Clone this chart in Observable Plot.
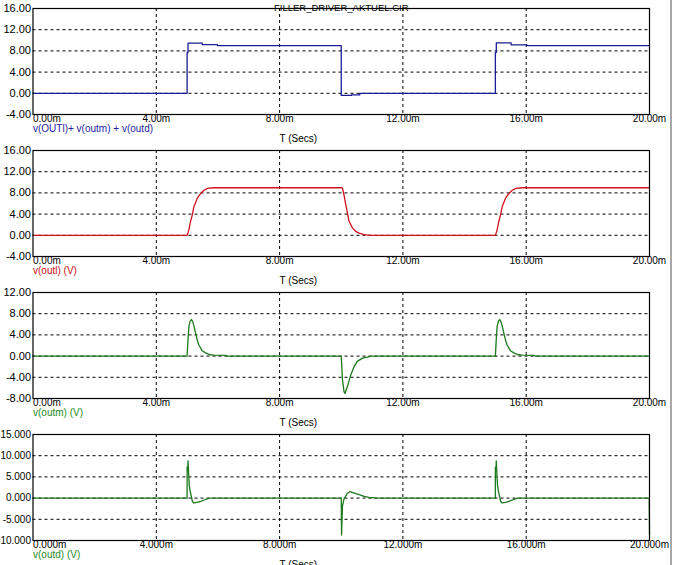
<!DOCTYPE html>
<html>
<head>
<meta charset="utf-8">
<script src="https://cdn.jsdelivr.net/npm/d3@7"></script>
<script src="https://cdn.jsdelivr.net/npm/@observablehq/plot@0.6"></script>
<style>
  html, body { margin: 0; padding: 0; background: #fff; }
  body { width: 676px; height: 565px; overflow: hidden; position: relative; }
  #chart svg { display: block; }
  #sb { position: absolute; left: 670px; top: 0; width: 2px; height: 565px; background: #a8a8a8; }
</style>
</head>
<body>
<div id="chart"></div>
<div id="sb"></div>
<script>
// ---- data ----
const title = "FILLER_DRIVER_AKTUEL.CIR";
const xTicks = [0, 4, 8, 12, 16, 20];           // ms
const xLabel = "T (Secs)";

// Panel 1: v(OUTl)+ v(outm) + v(outd)
const sumLegend = "v(OUTl)+ v(outm) + v(outd)";
const sumT = [0, 5.0, 5.0, 5.03, 5.03, 5.49, 5.49, 5.98, 5.98, 10.0, 10.0, 10.33, 10.33, 10.6, 10.6,
              15.0, 15.0, 15.03, 15.03, 15.51, 15.51, 16.02, 16.02, 20.0];
const sumV = [0, 0, 7.7, 7.7, 9.45, 9.45, 9.2, 9.2, 9.0, 9.0, -0.4, -0.4, -0.3, -0.3, 0,
              0, 7.7, 7.7, 9.5, 9.5, 9.15, 9.15, 9.0, 9.0];
const yTicks1 = [16, 12, 8, 4, 0, -4];

// Panel 2: v(outl)
const outlLegend = "v(outl) (V)";
const outlT = [0, 5.0, 5.03, 5.06, 5.11, 5.17, 5.22, 5.33, 5.44, 5.55, 5.66, 5.87, 10.02,
               10.04, 10.09, 10.15, 10.2, 10.25, 10.36, 10.47, 10.58, 10.74, 10.96,
               15.0, 15.03, 15.06, 15.11, 15.17, 15.22, 15.33, 15.44, 15.55, 15.66, 15.87, 20.0];
const outlV = [0, 0, 0.5, 1.1, 2.6, 3.9, 5.4, 7.0, 7.9, 8.5, 8.85, 8.97, 8.97,
               8.9, 7.6, 5.7, 4.2, 2.7, 1.4, 0.75, 0.4, 0.12, 0,
               0, 0.5, 1.1, 2.6, 3.9, 5.4, 7.0, 7.9, 8.5, 8.85, 8.97, 8.97];
const yTicks2 = [16, 12, 8, 4, 0, -4];

// Panel 3: v(outm)
const outmLegend = "v(outm) (V)";
const outmT = [0, 5.0, 5.03, 5.06, 5.1, 5.14, 5.18, 5.22, 5.28, 5.33, 5.38, 5.44, 5.49, 5.6, 5.71, 5.87, 6.25, 6.3,
               10.0, 10.04, 10.09, 10.12, 10.2, 10.31, 10.42, 10.52, 10.69, 10.85, 10.96,
               15.0, 15.03, 15.06, 15.1, 15.14, 15.18, 15.22, 15.28, 15.33, 15.38, 15.44, 15.49, 15.6, 15.71, 15.87, 16.25, 16.3, 20.0];
const outmV = [0, 0, 3.3, 5.7, 6.6, 6.9, 6.5, 5.7, 4.2, 3.0, 2.1, 1.5, 1.0, 0.6, 0.3, 0.2, 0.15, 0,
               0, -4.5, -6.7, -7.05, -5.75, -3.5, -1.95, -1.0, -0.38, -0.2, 0,
               0, 3.3, 5.7, 6.6, 6.9, 6.5, 5.7, 4.2, 3.0, 2.1, 1.5, 1.0, 0.6, 0.3, 0.2, 0.15, 0, 0];
const yTicks3 = [12, 8, 4, 0, -4, -8];

// Panel 4: v(outd)
const outdLegend = "v(outd) (V)";
const outdT = [0, 5.0, 5.0, 5.02, 5.03, 5.05, 5.07, 5.1, 5.14, 5.17, 5.22, 5.33, 5.44, 5.55, 5.65, 5.72,
               10.0, 10.01, 10.04, 10.09, 10.2, 10.28, 10.42, 10.58, 10.74, 10.9, 11.07, 11.1,
               15.0, 15.0, 15.02, 15.03, 15.05, 15.07, 15.1, 15.14, 15.17, 15.22, 15.33, 15.44, 15.55, 15.65, 15.72,
               19.99, 20.0];
const outdV = [0, 0, 7.3, 6.5, 8.8, 5.5, 3.0, 1.5, 0.3, -0.8, -1.15, -1.0, -0.75, -0.45, -0.2, 0,
               0, -8.7, -1.8, -0.2, 1.15, 1.5, 1.2, 0.8, 0.4, 0.15, 0.05, 0,
               0, 7.3, 6.5, 8.8, 5.5, 3.0, 1.5, 0.3, -0.8, -1.15, -1.0, -0.75, -0.45, -0.2, 0,
               0, -8.5];
const yTicks4 = [15, 10, 5, 0, -5, -10];

// ---- drawing ----
const FONT = "'Liberation Sans', Arial, sans-serif";

function panel({t, v, stroke, labelFill, legend, yTicks, dec, showTitle}) {
  const data = t.map((d, i) => ({t: d, v: v[i]}));
  const ymin = d3.min(yTicks), ymax = d3.max(yTicks);
  const inner = yTicks.filter(d => d !== ymin && d !== ymax);
  const innerX = xTicks.filter(d => d !== 0 && d !== 20);
  const fmtX = d => d.toFixed(dec) + "m";
  const yFont = dec === 3 ? 10 : 11;
  const marks = [
    Plot.ruleY(inner, {y: d => d, stroke: "#000", strokeWidth: 1, strokeDasharray: "3,3"}),
    Plot.ruleX(innerX, {x: d => d, stroke: "#000", strokeWidth: 1, strokeDasharray: "3,3"}),
    Plot.line(data, {x: "t", y: "v", stroke, strokeWidth: 1.3}),
    Plot.frame({stroke: "#000", strokeWidth: 1.2}),
    Plot.text(yTicks, {y: d => d, frameAnchor: "left", dx: -2, textAnchor: "end",
      text: d => d.toFixed(dec), fontSize: yFont, fill: "#000", ariaLabel: dec === 3 ? "ylab3" : "ylab"}),
    Plot.text(xTicks.slice(0, 1), {x: d => d, frameAnchor: "bottom", dy: 7.5, textAnchor: "start",
      text: fmtX, fontSize: 10, fill: "#000", ariaLabel: "xlab"}),
    Plot.text(xTicks.slice(1), {x: d => d, frameAnchor: "bottom", dy: 7.5, textAnchor: "middle",
      text: fmtX, fontSize: 10, fill: "#000", ariaLabel: "xlab"}),
    Plot.text([legend], {frameAnchor: "bottom-left", dy: 17, textAnchor: "start",
      text: d => d, fontSize: 10, fill: labelFill, ariaLabel: "legend"}),
    Plot.text([xLabel], {frameAnchor: "bottom", dx: -43, dy: 27, text: d => d,
      fontSize: 10, fill: "#000", ariaLabel: "xtitle"})
  ];
  if (showTitle) {
    marks.push(Plot.text([title], {frameAnchor: "top", dy: -4.5, text: d => d,
      fontSize: 9.5, fill: "#000", ariaLabel: "title"}));
  }
  const svg = Plot.plot({
    width: 676,
    height: 142,
    marginLeft: 32.5,
    marginRight: 27,
    marginTop: 8,
    marginBottom: 28,
    x: {domain: [0, 20], axis: null},
    y: {domain: [ymin, ymax], axis: null},
    style: {fontFamily: FONT, background: "transparent", overflow: "visible", color: "#000"},
    marks
  });
  d3.select(svg).selectAll("g[aria-label='xlab'] text").style("letter-spacing", "-0.8px");
  d3.select(svg).selectAll("g[aria-label='legend'] text, g[aria-label='xtitle'] text").style("letter-spacing", "-0.3px");
  d3.select(svg).selectAll("g[aria-label='ylab'] text").style("letter-spacing", "-0.2px");
  d3.select(svg).selectAll("g[aria-label='ylab3'] text").style("letter-spacing", "-0.8px");
  return svg;
}

const chart = document.getElementById("chart");
chart.appendChild(panel({t: sumT, v: sumV, stroke: "#1c1c96", labelFill: "#2323a0", legend: sumLegend, yTicks: yTicks1, dec: 2, showTitle: true}));
chart.appendChild(panel({t: outlT, v: outlV, stroke: "#d0101e", labelFill: "#c80c14", legend: outlLegend, yTicks: yTicks2, dec: 2}));
chart.appendChild(panel({t: outmT, v: outmV, stroke: "#1c7a1c", labelFill: "#1f8a1f", legend: outmLegend, yTicks: yTicks3, dec: 2}));
chart.appendChild(panel({t: outdT, v: outdV, stroke: "#1c7a1c", labelFill: "#1f8a1f", legend: outdLegend, yTicks: yTicks4, dec: 3}));
</script>
</body>
</html>
